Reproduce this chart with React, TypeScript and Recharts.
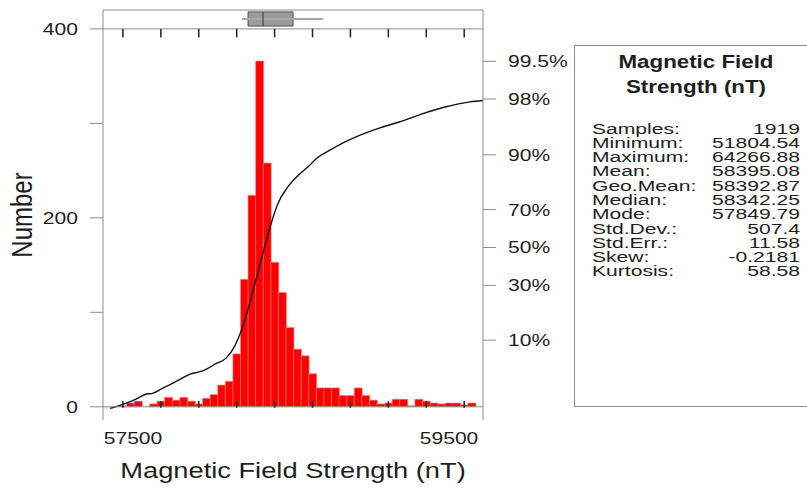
import React from 'react';
import { ComposedChart, Bar, Line, XAxis, YAxis, ReferenceLine, ReferenceArea } from 'recharts';

const FONT = '"Liberation Sans", Arial, Helvetica, sans-serif';
const INK = '#1e1e1e';
const AXIS = '#8c8c8c';
const SX = 1.24; // the source picture is stretched sideways, so text is too
const PANEL_SX = 1.36;

// histogram, 48 nT bins, first bin centred on 57436 nT
const BIN_START = 57436;
const BIN_WIDTH = 48;
const counts = [
  1, 4, 6, 0, 3, 6, 10, 7, 10, 6, 3, 9, 13, 23, 27, 56,
  135, 224, 366, 258, 153, 121, 84, 61, 54, 35,
  20, 20, 20, 12, 12, 20, 12, 7, 3, 4, 8, 8, 1, 8, 6, 4, 3, 4, 4, 2, 4,
];

// cumulative curve
const cdfX = [
  57354, 57437, 57519, 57576, 57627, 57677, 57734, 57797, 57861, 57924, 57962,
  58025, 58089, 58146, 58209, 58272, 58323, 58367, 58418, 58481, 58544, 58608,
  58665, 58747, 58829, 58937, 59063, 59190, 59316, 59475, 59633, 59715,
];
const cdfPct = [
  1.3, 1.5, 1.8, 2.1, 2.2, 2.5, 2.9, 3.4, 4.0, 4.3, 4.6,
  5.4, 6.3, 8.8, 16, 31, 47, 61, 73, 80, 84, 86.8,
  89.2, 91.1, 92.6, 94.0, 95.1, 95.9, 96.7, 97.4, 97.8, 97.9,
];

// box plot: whisker low, q1, median, q3, whisker high
const boxValues = [58190, 58228, 58323, 58513, 58703];

const xLabels = [57500, 59500];
const xTickMarks = [57436, 57676, 57916, 58156, 58396, 58636, 58876, 59116, 59356, 59596];
const countTicks = [0, 100, 200, 300, 400];
const pctTicks = [10, 30, 50, 70, 90, 98, 99.5];

const statLabels = ['Samples:', 'Minimum:', 'Maximum:', 'Mean:', 'Geo.Mean:', 'Median:', 'Mode:', 'Std.Dev.:', 'Std.Err.:', 'Skew:', 'Kurtosis:'];
const statValues = ['1919', '51804.54', '64266.88', '58395.08', '58392.87', '58342.25', '57849.79', '507.4', '11.58', '-0.2181', '58.58'];

const X_DOMAIN = [57310, 59715];
const N_DOMAIN = [-14, 420];
const Z_DOMAIN = [-2.386, 3.285];

// inverse normal cdf (Acklam)
function probit(p: number) {
  const a = [-39.69683028665376, 220.9460984245205, -275.9285104469687, 138.357751867269, -30.66479806614716, 2.506628277459239];
  const b = [-54.47609879822406, 161.5858368580409, -155.6989798598866, 66.80131188771972, -13.28068155288572];
  const c = [-0.007784894002430293, -0.3223964580411365, -2.400758277161838, -2.549732539343734, 4.374664141464968, 2.938163982698783];
  const d = [0.007784695709041462, 0.3224671290700398, 2.445134137142996, 3.754408661907416];
  const lo = 0.02425;
  if (p < lo || p > 1 - lo) {
    const q = Math.sqrt(-2 * Math.log(p < lo ? p : 1 - p));
    const v = (((((c[0] * q + c[1]) * q + c[2]) * q + c[3]) * q + c[4]) * q + c[5]) /
      ((((d[0] * q + d[1]) * q + d[2]) * q + d[3]) * q + 1);
    return p < lo ? v : -v;
  }
  const q = p - 0.5;
  const r = q * q;
  return (((((a[0] * r + a[1]) * r + a[2]) * r + a[3]) * r + a[4]) * r + a[5]) * q /
    (((((b[0] * r + b[1]) * r + b[2]) * r + b[3]) * r + b[4]) * r + 1);
}

const histData = counts.map((n, i) => ({ v: BIN_START + i * BIN_WIDTH, n }));
const cdfData = cdfX.map((v, i) => ({ v, z: probit(cdfPct[i] / 100) }));

const SText = ({ x, y, anchor, size, children }: any) => (
  <text
    transform={`translate(${x} ${y}) scale(${SX} 1)`}
    textAnchor={anchor}
    dy="0.35em"
    fontSize={size}
    fontFamily={FONT}
    fill={INK}
  >
    {children}
  </text>
);

const CountTick = ({ x, y, payload }: any) =>
  payload.value % 200 === 0 ? <SText x={x} y={y} anchor="end" size={17}>{payload.value}</SText> : <g />;

const PctTick = ({ x, y, index }: any) => (
  <SText x={x} y={y} anchor="start" size={17}>{`${pctTicks[index]}%`}</SText>
);

const XTick = ({ x, y, payload }: any) => (
  <SText x={x} y={y} anchor="middle" size={17}>{payload.value}</SText>
);

const XTitle = ({ viewBox }: any) => (
  <SText x={viewBox.x + viewBox.width / 2} y={470} anchor="middle" size={22}>
    Magnetic Field Strength (nT)
  </SText>
);

const NumberTitle = ({ viewBox }: any) => (
  <text
    transform={`translate(22 ${viewBox.y + viewBox.height / 2}) scale(${SX} 1) rotate(-90)`}
    textAnchor="middle"
    dy="0.35em"
    fontSize={24}
    fontFamily={FONT}
    fill={INK}
  >
    Number
  </text>
);

export default function App() {
  const [wLo, q1, med, q3, wHi] = boxValues;
  return (
    <div style={{ position: 'absolute', left: 0, top: 0, width: 807, height: 492, background: '#fff' }}>
      <ComposedChart
        width={807}
        height={492}
        data={histData}
        margin={{ top: 10, right: 0, bottom: 0, left: 0 }}
        barCategoryGap={0}
        barGap={0}
      >
        <XAxis xAxisId="cdf" dataKey="v" type="number" domain={X_DOMAIN} allowDataOverflow hide height={0} />
        <XAxis
          xAxisId="v"
          dataKey="v"
          type="number"
          domain={X_DOMAIN}
          allowDataOverflow
          ticks={xLabels}
          interval={0}
          tick={XTick}
          tickLine={false}
          axisLine={false}
          tickSize={0}
          tickMargin={18}
          height={72}
          label={XTitle}
        />
        <YAxis
          yAxisId="n"
          type="number"
          domain={N_DOMAIN}
          allowDataOverflow
          ticks={countTicks}
          interval={0}
          tick={CountTick}
          tickSize={13}
          tickMargin={12}
          stroke={AXIS}
          width={103}
          label={NumberTitle}
        />
        <YAxis
          yAxisId="p"
          orientation="right"
          type="number"
          domain={Z_DOMAIN}
          allowDataOverflow
          ticks={pctTicks.map((p) => probit(p / 100))}
          interval={0}
          tick={PctTick}
          tickSize={13}
          tickMargin={12}
          stroke={AXIS}
          width={324}
        />
        <Bar
          xAxisId="v"
          yAxisId="n"
          dataKey="n"
          fill="#ff0000"
          stroke="#ff8c8c"
          strokeWidth={0.6}
          isAnimationActive={false}
        />
        <Line
          xAxisId="cdf"
          yAxisId="p"
          data={cdfData}
          dataKey="z"
          type="monotone"
          stroke="#111"
          strokeWidth={1.4}
          dot={false}
          isAnimationActive={false}
        />
        <ReferenceLine xAxisId="v" yAxisId="n" y={0} stroke={AXIS} />
        <ReferenceLine xAxisId="v" yAxisId="n" y={400} stroke={AXIS} />
        <ReferenceLine xAxisId="v" yAxisId="n" y={420} stroke={AXIS} />
        {xTickMarks.map((t) => (
          <ReferenceLine key={`b${t}`} xAxisId="v" yAxisId="n" segment={[{ x: t, y: -1 }, { x: t, y: 6 }]} stroke="#222" strokeWidth={1.5} />
        ))}
        {xTickMarks.map((t) => (
          <ReferenceLine key={`t${t}`} xAxisId="v" yAxisId="n" segment={[{ x: t, y: 400 }, { x: t, y: 391 }]} stroke="#222" strokeWidth={1.5} />
        ))}
        <ReferenceLine xAxisId="v" yAxisId="n" segment={[{ x: wLo, y: 410.5 }, { x: wHi, y: 410.5 }]} stroke="#a8a8a8" strokeWidth={2} />
        <ReferenceArea xAxisId="v" yAxisId="n" x1={q1} x2={q3} y1={403} y2={418} fill="#9a9a9a" fillOpacity={1} stroke="#555" />
        <ReferenceLine xAxisId="v" yAxisId="n" segment={[{ x: med, y: 403 }, { x: med, y: 418 }]} stroke="#444" strokeWidth={1.2} />
      </ComposedChart>
      <div
        style={{
          position: 'absolute', left: 574, top: 45, width: 240, height: 362,
          border: `1px solid ${AXIS}`, boxSizing: 'border-box',
        }}
      />
      <div
        style={{
          position: 'absolute', left: 592, top: 49.7, width: 208 / SX,
          transform: `scaleX(${SX})`, transformOrigin: '0 0', fontFamily: FONT, color: INK,
          textAlign: 'center', fontWeight: 700, fontSize: 18, lineHeight: '25px',
        }}
      >
        Magnetic Field<br />Strength (nT)
      </div>
      <div
        style={{
          position: 'absolute', left: 592, top: 121.5, width: 208 / PANEL_SX,
          transform: `scaleX(${PANEL_SX})`, transformOrigin: '0 0', fontFamily: FONT, color: INK,
          fontSize: 15.5, lineHeight: '14.3px',
        }}
      >
        {statLabels.map((l, i) => (
          <div key={l} style={{ display: 'flex', justifyContent: 'space-between' }}>
            <span>{l}</span>
            <span>{statValues[i]}</span>
          </div>
        ))}
      </div>
    </div>
  );
}
